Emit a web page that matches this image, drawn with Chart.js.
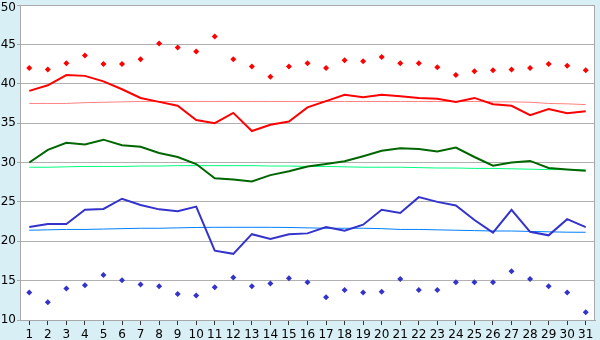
<!DOCTYPE html>
<html>
<head>
<meta charset="utf-8">
<script src="https://cdn.jsdelivr.net/npm/chart.js@4"></script>
<style>
  html, body { margin: 0; padding: 0; background: #d9eff6; }
  #wrap { width: 600px; height: 340px; position: relative; }
</style>
</head>
<body>
<div id="wrap"><canvas id="chart"></canvas></div>
<script>
// days of the month
const days = ['1','2','3','4','5','6','7','8','9','10','11','12','13','14','15','16',
  '17','18','19','20','21','22','23','24','25','26','27','28','29','30','31'];

// upper markers (red)
const highPoints = [42.0, 41.8, 42.6, 43.6, 42.5, 42.5, 43.1, 45.1, 44.6, 44.1, 46.0, 43.1, 42.2, 40.9, 42.2, 42.6,
  42.0, 43.0, 42.85, 43.4, 42.6, 42.6, 42.1, 41.1, 41.6, 41.7, 41.8, 42.0, 42.5, 42.3, 41.7];
// red line
const highLine = [39.1, 39.8, 41.1, 41.0, 40.3, 39.3, 38.2, 37.7, 37.2, 35.4, 35.0, 36.3, 34.0, 34.8, 35.2, 37.0,
  37.8, 38.6, 38.3, 38.6, 38.4, 38.2, 38.1, 37.7, 38.2, 37.4, 37.2, 36.0, 36.8, 36.25, 36.5];
const highTrend = [37.5, 37.5, 37.5, 37.6, 37.65, 37.7, 37.75, 37.75, 37.75, 37.75, 37.75, 37.75, 37.75, 37.75, 37.75, 37.75,
  37.75, 37.75, 37.75, 37.75, 37.75, 37.75, 37.75, 37.75, 37.75, 37.7, 37.7, 37.65, 37.5, 37.45, 37.35];

// green line
const midLine = [30.0, 31.6, 32.5, 32.3, 32.9, 32.2, 32.0, 31.2, 30.7, 29.8, 28.0, 27.85, 27.6, 28.4, 28.9, 29.5,
  29.8, 30.15, 30.8, 31.5, 31.8, 31.7, 31.4, 31.9, 30.7, 29.6, 30.0, 30.2, 29.3, 29.1, 28.95];
const midTrend = [29.4, 29.4, 29.45, 29.5, 29.5, 29.5, 29.55, 29.55, 29.6, 29.6, 29.6, 29.6, 29.6, 29.55, 29.55, 29.5,
  29.5, 29.45, 29.4, 29.4, 29.4, 29.35, 29.3, 29.3, 29.25, 29.25, 29.2, 29.15, 29.1, 29.1, 29.05];

// blue line
const lowLine = [21.8, 22.2, 22.2, 24.0, 24.1, 25.4, 24.6, 24.05, 23.8, 24.4, 18.8, 18.4, 20.9, 20.3, 20.9, 21.0,
  21.8, 21.35, 22.1, 24.0, 23.6, 25.6, 25.0, 24.55, 22.7, 21.1, 24.0, 21.2, 20.75, 22.8, 21.8];
const lowTrend = [21.4, 21.45, 21.5, 21.5, 21.55, 21.6, 21.65, 21.65, 21.7, 21.75, 21.77, 21.77, 21.77, 21.77, 21.75, 21.7,
  21.65, 21.65, 21.65, 21.6, 21.5, 21.5, 21.45, 21.4, 21.35, 21.3, 21.3, 21.25, 21.2, 21.15, 21.14];

// lower markers (blue)
const lowPoints = [13.5, 12.25, 14.0, 14.4, 15.7, 15.05, 14.5, 14.3, 13.3, 13.1, 14.15, 15.4, 14.3, 14.65, 15.3, 14.8,
  12.9, 13.8, 13.5, 13.6, 15.2, 13.8, 13.8, 14.8, 14.8, 14.8, 16.2, 15.2, 14.3, 13.5, 11.0];

const yTicks = [10, 15, 20, 25, 30, 35, 40, 45, 50];
const yMax = 50;

function line(data, color, width, order) {
  return { data: data, borderColor: color, borderWidth: width, pointRadius: 0, tension: 0, fill: false, order: order };
}
function marks(data, color) {
  return { data: data, showLine: false, pointStyle: 'rectRot', pointRadius: 3,
    backgroundColor: color, borderColor: color, borderWidth: 0, order: 0 };
}

// white plot area, grey frame, and the top label nudged down so it is not clipped
const plotFrame = {
  id: 'plotFrame',
  beforeDraw(chart) {
    const a = chart.chartArea, c = chart.ctx;
    c.save();
    c.fillStyle = '#ffffff';
    c.fillRect(a.left, a.top, a.right - a.left, a.bottom - a.top);
    c.restore();
  },
  afterDatasetsDraw(chart) {
    const a = chart.chartArea, c = chart.ctx;
    c.save();
    c.strokeStyle = '#a8a8a8';
    c.lineWidth = 1;
    c.strokeRect(Math.round(a.left) + 0.5, Math.round(a.top) + 0.5,
      Math.round(a.right - a.left) - 1, Math.round(a.bottom - a.top));
    c.restore();
  },
  afterDraw(chart) {
    const y = chart.scales.y, c = chart.ctx;
    c.save();
    c.fillStyle = '#000000';
    c.font = '12px "DejaVu Sans"';
    c.textAlign = 'right';
    c.textBaseline = 'middle';
    c.fillText(String(yMax), y.right - 4, Math.max(y.getPixelForValue(yMax), 8));
    c.restore();
  }
};

new Chart(document.getElementById('chart').getContext('2d'), {
  type: 'line',
  data: {
    labels: days,
    datasets: [
      line(highTrend, '#ff8080', 1, 5),
      line(midTrend, '#00ff80', 1, 5),
      line(lowTrend, '#0080ff', 1, 5),
      line(highLine, '#ff0000', 2, 2),
      line(midLine, '#006600', 2, 2),
      line(lowLine, '#3333cc', 2, 2),
      marks(highPoints, '#ff0000'),
      marks(lowPoints, '#3333cc')
    ]
  },
  options: {
    responsive: true,
    maintainAspectRatio: false,
    animation: false,
    layout: { padding: { top: 5, right: 5, left: 0, bottom: 0 } },
    plugins: { legend: { display: false }, tooltip: { enabled: false } },
    scales: {
      x: {
        offset: true,
        grid: { drawOnChartArea: false, tickLength: 5, tickColor: '#333333', offset: false },
        border: { color: '#a8a8a8' },
        ticks: { color: '#000000', font: { family: 'DejaVu Sans', size: 12 }, padding: 3, maxRotation: 0, autoSkip: false },
        afterFit(s) { s.height = 20; s.paddingLeft = 0; s.paddingRight = 0; }
      },
      y: {
        min: 10,
        max: yMax,
        afterBuildTicks(s) { s.ticks = yTicks.map(v => ({ value: v })); },
        grid: { color: '#b0b0b0', tickLength: 3, tickColor: '#a8a8a8' },
        border: { color: '#a8a8a8' },
        ticks: {
          color: '#000000', font: { family: 'DejaVu Sans', size: 12 }, padding: 1,
          callback: v => (v === yMax ? '' : String(v))
        },
        afterFit(s) { s.width = 20; s.paddingTop = 0; s.paddingBottom = 0; }
      }
    }
  },
  plugins: [plotFrame]
});
</script>
</body>
</html>
